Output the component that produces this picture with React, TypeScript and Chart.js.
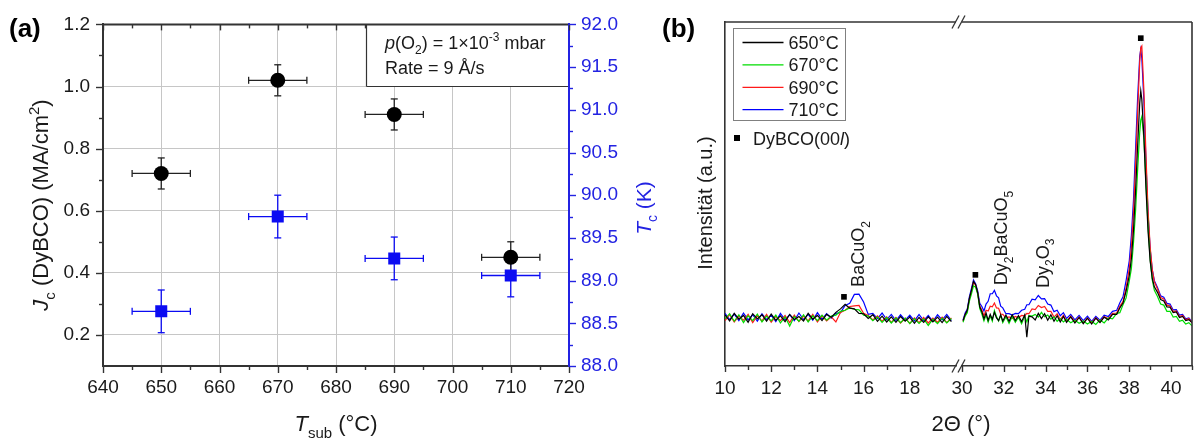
import React, { useEffect, useRef } from 'react';
import { Chart, registerables } from 'chart.js';

Chart.register(...registerables);

const FONT = '"Liberation Sans", Arial, Helvetica, sans-serif';

// ---------------- Panel (a) data ----------------
const T_SUB = [650, 670, 690, 710];
const T_SUB_ERR = [5, 5, 5, 5];
const JC = [0.72, 1.02, 0.91, 0.45];
const JC_ERR = [0.05, 0.05, 0.05, 0.05];
const TC = [88.64, 89.75, 89.26, 89.06];
const TC_ERR = [0.25, 0.25, 0.25, 0.25];
const A_X_TICKS = [640, 650, 660, 670, 680, 690, 700, 710, 720];
const A_JC_TICKS = [0.2, 0.4, 0.6, 0.8, 1.0, 1.2];
const A_TC_TICKS = [88, 88.5, 89, 89.5, 90, 90.5, 91, 91.5, 92];

// ---------------- Panel (b) data ----------------
const B_LABELS = ['650°C', '670°C', '690°C', '710°C'];
const B_X1_TICKS = [10, 12, 14, 16, 18];
const B_X1_MINOR = [11, 13, 15, 17, 19];
const B_X2_TICKS = [30, 32, 34, 36, 38, 40];
const B_X2_MINOR = [31, 33, 35, 37, 39, 41];

const TH1 = [
  10.0, 10.2, 10.4, 10.6, 10.8, 11.0, 11.2, 11.4, 11.6, 11.8,
  12.0, 12.2, 12.4, 12.6, 12.8, 13.0, 13.2, 13.4, 13.6, 13.8,
  14.0, 14.2, 14.4, 14.6, 14.8, 15.0, 15.2, 15.4, 15.6, 15.8,
  16.0, 16.2, 16.4, 16.6, 16.8, 17.0, 17.2, 17.4, 17.6, 17.8,
  18.0, 18.2, 18.4, 18.6, 18.8, 19.0, 19.2, 19.4, 19.6, 19.8,
];
const I1_650 = [
  14.9, 13.1, 15.3, 13.6, 14.7, 12.7, 15.2, 13.7, 14.9, 13.0,
  15.1, 13.3, 14.6, 12.9, 15.0, 13.5, 14.4, 13.1, 15.3, 13.6,
  14.7, 13.2, 15.0, 14.2, 15.6, 16.6, 17.9, 16.8, 16.6, 15.3,
  15.2, 13.8, 14.9, 13.0, 14.5, 12.8, 14.3, 12.7, 14.4, 13.0,
  14.2, 12.4, 14.1, 12.7, 14.3, 12.8, 14.2, 12.6, 14.4, 12.9,
];
const I1_670 = [
  13.7, 15.2, 13.0, 14.9, 12.6, 14.6, 13.2, 15.1, 12.8, 14.5,
  13.1, 14.8, 12.5, 14.3, 11.6, 14.4, 13.0, 14.9, 12.8, 14.6,
  13.2, 14.8, 13.3, 14.5, 14.8, 15.9, 16.2, 16.9, 16.5, 16.3,
  14.8, 14.5, 13.2, 14.3, 12.7, 14.1, 12.5, 14.0, 12.6, 13.9,
  12.3, 13.8, 12.4, 13.7, 11.8, 13.6, 12.3, 13.9, 12.5, 13.8,
];
const I1_690 = [
  13.2, 14.9, 12.8, 14.5, 13.3, 15.0, 12.6, 14.6, 13.1, 15.0,
  12.7, 14.4, 13.2, 14.7, 12.6, 14.8, 12.9, 14.5, 13.1, 15.0,
  12.8, 14.6, 13.1, 14.3, 12.8, 15.6, 16.2, 17.3, 17.5, 17.6,
  15.3, 14.7, 13.4, 14.6, 13.0, 14.3, 12.7, 14.1, 12.5, 13.9,
  12.4, 14.0, 12.6, 14.1, 12.5, 13.9, 12.7, 14.2, 12.6, 14.0,
];
const I1_710 = [
  15.3, 13.5, 15.1, 13.2, 15.4, 13.4, 14.9, 13.0, 15.2, 13.5,
  14.8, 12.9, 15.3, 13.4, 14.9, 13.2, 15.4, 13.5, 15.0, 13.3,
  15.5, 13.6, 15.2, 13.9, 15.3, 15.5, 17.6, 18.2, 20.8, 20.9,
  18.6, 15.0, 15.3, 13.8, 15.4, 13.5, 15.0, 13.2, 14.9, 13.3,
  14.8, 13.1, 15.0, 13.2, 14.7, 13.0, 14.9, 13.4, 15.0, 13.2,
];

const TH2 = [
  30.05, 30.15, 30.25, 30.35, 30.45, 30.55, 30.65, 30.75, 30.85, 30.95,
  31.05, 31.15, 31.25, 31.35, 31.45, 31.55, 31.65, 31.75, 31.85, 31.95,
  32.1, 32.25, 32.4, 32.55, 32.7, 32.85, 33.0, 33.1, 33.2, 33.35,
  33.5, 33.65, 33.8, 33.95, 34.1, 34.25, 34.4, 34.55, 34.7, 34.85,
  35.0, 35.2, 35.4, 35.6, 35.8, 36.0, 36.2, 36.4, 36.6, 36.8,
  37.0, 37.2, 37.4, 37.55, 37.7, 37.85, 38.0, 38.1, 38.2, 38.3,
  38.4, 38.5, 38.55, 38.6, 38.7, 38.8, 38.9, 39.0, 39.1, 39.2,
  39.35, 39.5, 39.65, 39.8, 39.95, 40.1, 40.25, 40.4, 40.55, 40.7, 40.85, 41.0,
];
const I2_650 = [
  13.2, 15.0, 16.2, 19.6, 22.0, 24.6, 23.7, 21.3, 17.2, 15.8,
  13.7, 15.4, 13.3, 15.0, 13.6, 15.6, 14.0, 13.2, 14.9, 13.1,
  14.8, 13.0, 14.9, 13.2, 14.6, 12.9, 14.9, 8.4, 14.5, 14.3,
  13.4, 15.3, 13.8, 15.2, 13.3, 14.9, 13.0, 14.6, 12.8, 14.4,
  12.7, 14.3, 12.5, 14.1, 12.3, 13.9, 12.2, 13.9, 12.6, 14.2,
  13.4, 15.0, 15.0, 16.9, 18.3, 21.8, 26.3, 31.2, 39.3, 50.7,
  64.0, 76.5, 80.0, 77.5, 66.5, 51.5, 39.0, 30.5, 25.5, 23.0,
  21.4, 19.3, 18.9, 17.2, 17.1, 15.5, 15.7, 14.1, 14.4, 13.2, 13.5, 12.6,
];
const I2_670 = [
  12.7, 14.5, 15.5, 18.8, 20.9, 23.3, 22.9, 20.9, 16.7, 15.1,
  13.1, 14.8, 12.8, 14.5, 13.0, 16.1, 14.4, 13.1, 14.7, 12.6,
  14.3, 12.4, 14.4, 12.7, 14.2, 12.3, 14.5, 12.8, 14.7, 14.5,
  15.0, 14.2, 15.6, 14.3, 14.8, 13.6, 14.3, 13.0, 13.8, 12.8,
  13.6, 12.6, 13.3, 12.4, 13.1, 12.2, 13.0, 12.1, 13.4, 12.5,
  14.0, 13.7, 15.3, 15.5, 17.8, 19.8, 24.7, 28.3, 35.7, 45.0,
  57.0, 68.0, 71.5, 72.5, 66.0, 53.0, 40.5, 31.0, 25.0, 22.0,
  20.2, 18.0, 17.7, 15.9, 15.9, 14.2, 14.4, 13.0, 13.3, 12.2, 12.6, 11.7,
];
const I2_690 = [
  13.0, 14.9, 15.9, 19.3, 21.6, 24.4, 23.5, 21.2, 17.4, 16.3,
  14.6, 16.2, 16.0, 17.4, 17.2, 18.3, 16.9, 16.8, 15.1, 15.0,
  14.0, 14.3, 13.8, 14.4, 14.0, 14.7, 14.6, 15.3, 15.2, 16.6,
  16.4, 17.6, 17.0, 17.3, 15.9, 15.9, 14.2, 15.2, 13.5, 14.7,
  13.0, 14.5, 12.8, 14.2, 12.5, 13.9, 12.6, 14.0, 12.8, 14.3,
  13.8, 15.3, 15.4, 17.4, 18.7, 22.8, 28.3, 34.7, 44.4, 58.1,
  73.5, 88.5, 92.5, 93.0, 80.0, 61.0, 45.0, 34.5, 28.0, 24.5,
  22.4, 19.9, 19.5, 17.7, 17.5, 15.8, 16.0, 14.4, 14.7, 13.4, 13.8, 12.6,
];
const I2_710 = [
  13.4, 15.4, 16.5, 20.0, 22.5, 25.0, 23.9, 21.8, 18.2, 17.3,
  16.0, 18.0, 18.8, 21.0, 21.0, 22.0, 20.4, 19.8, 17.4, 16.9,
  15.2, 15.2, 14.8, 15.3, 15.2, 16.2, 16.5, 17.8, 17.8, 19.4,
  19.2, 20.5, 19.5, 19.6, 18.0, 17.7, 15.8, 16.2, 14.6, 15.5,
  13.8, 15.0, 13.4, 14.7, 13.2, 14.5, 13.0, 14.4, 13.3, 14.8,
  14.4, 15.9, 16.2, 18.4, 20.1, 24.9, 30.6, 37.9, 48.1, 62.9,
  78.0, 90.0, 92.0, 89.5, 77.0, 59.0, 44.0, 34.0, 28.0, 24.8,
  22.8, 20.4, 20.0, 18.2, 18.0, 16.3, 16.4, 14.8, 15.0, 13.7, 14.0, 12.8,
];

// DyBCO(00l) reflections (2θ, intensity) and secondary phases
const REFL_X = [15.15, 30.64, 38.55];
const REFL_Y = [20.1, 26.5, 95.3];
const PHASE_X = [15.75, 31.85, 33.85];
const PHASE_Y = [23.0, 23.5, 22.7];

// ---------------- styles ----------------
const AXIS = '#333333';
const GRID = '#c6c6c6';
const TEXT = '#1a1a1a';
const BLUE_AX = '#2323e2';
const BLUE_MK = '#0b0bf2';
const SERIES_COLORS = ['#000000', '#00dd00', '#ff1a1a', '#0000ff'];

type Part = [string, string?];

function fontOf(style: string | undefined, size: number) {
  const tk = (style || '').split(' ');
  const small = tk.includes('sub') || tk.includes('sup');
  const s = small ? Math.round(size * 0.68) : size;
  const it = tk.includes('i') ? 'italic ' : '';
  const b = tk.includes('bold') ? 'bold ' : '';
  return `${it}${b}${s}px ${FONT}`;
}

function drawRich(ctx: CanvasRenderingContext2D, parts: Part[], x: number, y: number, size: number, color: string, align: 'left' | 'center' = 'left', rotate = false) {
  ctx.save();
  ctx.translate(x, y);
  if (rotate) ctx.rotate(-Math.PI / 2);
  ctx.fillStyle = color;
  ctx.textBaseline = 'alphabetic';
  ctx.textAlign = 'left';
  const widths = parts.map(([t, st]) => { ctx.font = fontOf(st, size); return ctx.measureText(t).width; });
  const total = widths.reduce((a, b) => a + b, 0);
  let cx = align === 'center' ? -total / 2 : 0;
  parts.forEach(([t, st], i) => {
    const tk = (st || '').split(' ');
    ctx.font = fontOf(st, size);
    let dy = 0;
    if (tk.includes('sub')) dy = size * 0.3;
    if (tk.includes('sup')) dy = -size * 0.42;
    ctx.fillText(t, cx, dy);
    cx += widths[i];
  });
  ctx.restore();
}

function seg(ctx: CanvasRenderingContext2D, x1: number, y1: number, x2: number, y2: number) {
  ctx.beginPath(); ctx.moveTo(x1, y1); ctx.lineTo(x2, y2); ctx.stroke();
}
const mids = (a: number[]) => a.slice(1).map((v, i) => (v + a[i]) / 2);

function xTicks(ctx: CanvasRenderingContext2D, sc: any, vals: number[], y: number, len: number) {
  vals.forEach((v) => { const p = Math.round(sc.getPixelForValue(v)) + 0.5; seg(ctx, p, y, p, y + len); });
}
function yTicks(ctx: CanvasRenderingContext2D, sc: any, vals: number[], x: number, len: number) {
  vals.forEach((v) => { const p = Math.round(sc.getPixelForValue(v)) + 0.5; seg(ctx, x, p, x + len, p); });
}

const pts = (xs: number[], ys: number[]) => xs.map((x, i) => ({ x, y: ys[i] }));
const setTicks = (vals: number[]) => (s: any) => { s.ticks = vals.map((value) => ({ value })); };

// ---------------- plugins ----------------
const panelAPlugin = {
  id: 'panelA',
  beforeDatasetsDraw(chart: any) {
    const ctx = chart.ctx as CanvasRenderingContext2D;
    const xs = chart.scales.x;
    ctx.save();
    ctx.lineWidth = 1.3;
    const bars = (ysc: any, vals: number[], errs: number[], color: string) => {
      ctx.strokeStyle = color;
      T_SUB.forEach((t, i) => {
        const px = xs.getPixelForValue(t), py = ysc.getPixelForValue(vals[i]);
        const xl = xs.getPixelForValue(t - T_SUB_ERR[i]), xr = xs.getPixelForValue(t + T_SUB_ERR[i]);
        const yt = ysc.getPixelForValue(vals[i] + errs[i]), yb = ysc.getPixelForValue(vals[i] - errs[i]);
        seg(ctx, xl, py, xr, py); seg(ctx, px, yt, px, yb);
        seg(ctx, xl, py - 3.5, xl, py + 3.5); seg(ctx, xr, py - 3.5, xr, py + 3.5);
        seg(ctx, px - 3.5, yt, px + 3.5, yt); seg(ctx, px - 3.5, yb, px + 3.5, yb);
      });
    };
    bars(chart.scales.y2, TC, TC_ERR, BLUE_MK);
    bars(chart.scales.y, JC, JC_ERR, '#222');
    ctx.restore();
  },
  afterDraw(chart: any) {
    const ctx = chart.ctx as CanvasRenderingContext2D;
    const ca = chart.chartArea;
    const xs = chart.scales.x, ys = chart.scales.y, y2 = chart.scales.y2;
    ctx.save();
    ctx.lineWidth = 1.4;
    ctx.strokeStyle = AXIS;
    xTicks(ctx, xs, A_X_TICKS, ca.bottom, 7);
    xTicks(ctx, xs, mids(A_X_TICKS), ca.bottom, 4);
    xTicks(ctx, xs, A_X_TICKS, ca.top, 6);
    xTicks(ctx, xs, mids(A_X_TICKS), ca.top, 4);
    yTicks(ctx, ys, A_JC_TICKS, ca.left, -7);
    yTicks(ctx, ys, [0.3, 0.5, 0.7, 0.9, 1.1], ca.left, -4);
    ctx.strokeStyle = BLUE_AX;
    yTicks(ctx, y2, A_TC_TICKS, ca.right, 7);
    yTicks(ctx, y2, mids(A_TC_TICKS), ca.right, 4);
    // note box
    const bl = 366.5, bb = 86.5;
    ctx.fillStyle = '#ffffff';
    ctx.fillRect(bl, ca.top, ca.right - 1 - bl, bb - ca.top);
    ctx.strokeStyle = AXIS;
    ctx.lineWidth = 1.2;
    seg(ctx, bl, ca.top, bl, bb); seg(ctx, bl, bb, ca.right - 1, bb);
    ctx.lineWidth = 2;
    seg(ctx, ca.left, ca.top, ca.right - 1, ca.top);
    drawRich(ctx, [['p', 'i'], ['(O'], ['2', 'sub'], [') = 1×10'], ['-3', 'sup'], [' mbar']], 385, 49, 18, TEXT);
    drawRich(ctx, [['Rate = 9 Å/s']], 385, 74, 18, TEXT);
    // titles
    drawRich(ctx, [['(a)', 'bold']], 9, 36.5, 26, '#000');
    drawRich(ctx, [['J', 'i'], ['c', 'sub'], [' (DyBCO) (MA/cm'], ['2', 'sup'], [')']], 48, 205, 22, TEXT, 'center', true);
    drawRich(ctx, [['T', 'i'], ['sub', 'sub'], [' (°C)']], 336, 431, 22, TEXT, 'center');
    drawRich(ctx, [['T', 'i'], ['c', 'sub'], [' (K)']], 651, 208, 21, BLUE_AX, 'center', true);
    ctx.restore();
  },
};

function rotatedPhase(ctx: CanvasRenderingContext2D, chart: any, i: number, parts: Part[]) {
  const px = chart.scales.x.getPixelForValue(PHASE_X[i]);
  const py = chart.scales.y.getPixelForValue(PHASE_Y[i]);
  drawRich(ctx, parts, px + 6.5, py, 18, TEXT, 'left', true);
}

function breakMarks(ctx: CanvasRenderingContext2D, x: number, y: number) {
  seg(ctx, x - 10, y + 6.5, x - 3, y - 6.5);
  seg(ctx, x - 4, y + 6.5, x + 3, y - 6.5);
}

const panelB1Plugin = {
  id: 'panelB1',
  afterDraw(chart: any) {
    const ctx = chart.ctx as CanvasRenderingContext2D;
    const ca = chart.chartArea;
    const xs = chart.scales.x;
    ctx.save();
    ctx.strokeStyle = AXIS;
    ctx.lineWidth = 1.6;
    seg(ctx, ca.left, ca.top, ca.right, ca.top);
    ctx.lineWidth = 1.4;
    xTicks(ctx, xs, B_X1_TICKS, ca.bottom, 6);
    xTicks(ctx, xs, B_X1_MINOR, ca.bottom, 4);
    // legend
    const lx = ca.left + 8.5, ly = ca.top + 6.5;
    ctx.fillStyle = '#fff';
    ctx.fillRect(lx, ly, 112, 92);
    ctx.strokeStyle = '#808080';
    ctx.lineWidth = 1;
    ctx.strokeRect(lx, ly, 112, 92);
    B_LABELS.forEach((lab, i) => {
      const ry = ly + 14 + i * 22.4;
      ctx.strokeStyle = SERIES_COLORS[i];
      ctx.lineWidth = 1.3;
      seg(ctx, lx + 9, ry, lx + 50, ry);
      drawRich(ctx, [[lab]], lx + 55, ry + 6.5, 18, TEXT);
    });
    ctx.fillStyle = '#000';
    ctx.fillRect(ca.left + 9, ca.top + 113, 6, 6);
    drawRich(ctx, [['DyBCO(00'], ['l', 'i'], [')']], ca.left + 28, ca.top + 122.5, 18, TEXT);
    rotatedPhase(ctx, chart, 0, [['BaCuO'], ['2', 'sub']]);
    drawRich(ctx, [['(b)', 'bold']], 12, 36.5, 26, '#000');
    drawRich(ctx, [['Intensität (a.u.)']], 62, 203, 20, TEXT, 'center', true);
    drawRich(ctx, [['2Θ (°)']], 311, 431, 22, TEXT, 'center');
    ctx.restore();
  },
};

const panelB2Plugin = {
  id: 'panelB2',
  afterDraw(chart: any) {
    const ctx = chart.ctx as CanvasRenderingContext2D;
    const ca = chart.chartArea;
    const xs = chart.scales.x;
    ctx.save();
    ctx.strokeStyle = AXIS;
    ctx.lineWidth = 1.6;
    seg(ctx, ca.left, ca.top, ca.right, ca.top);
    seg(ctx, ca.right, ca.top, ca.right, ca.bottom);
    ctx.lineWidth = 1.4;
    xTicks(ctx, xs, B_X2_TICKS, ca.bottom, 6);
    xTicks(ctx, xs, B_X2_MINOR, ca.bottom, 4);
    ctx.lineWidth = 1.3;
    breakMarks(ctx, ca.left, ca.bottom);
    breakMarks(ctx, ca.left, ca.top);
    rotatedPhase(ctx, chart, 1, [['Dy'], ['2', 'sub'], ['BaCuO'], ['5', 'sub']]);
    rotatedPhase(ctx, chart, 2, [['Dy'], ['2', 'sub'], ['O'], ['3', 'sub']]);
    ctx.restore();
  },
};

// ---------------- configs ----------------
const tickFont = { family: FONT, size: 19 };

function configA(): any {
  return {
    type: 'scatter',
    data: {
      datasets: [
        { label: 'Jc', data: pts(T_SUB, JC), yAxisID: 'y', pointStyle: 'circle', pointRadius: 7.5, backgroundColor: '#000', borderColor: '#000', borderWidth: 0 },
        { label: 'Tc', data: pts(T_SUB, TC), yAxisID: 'y2', pointStyle: 'rect', pointRadius: 8.5, backgroundColor: BLUE_MK, borderColor: BLUE_MK, borderWidth: 0 },
      ],
    },
    options: {
      animation: false, responsive: false, events: [],
      layout: { padding: { top: 22, left: 0, right: 0, bottom: 0 } },
      plugins: { legend: { display: false }, tooltip: { enabled: false } },
      scales: {
        x: {
          type: 'linear', min: 640, max: 720, afterBuildTicks: setTicks(A_X_TICKS),
          afterFit: (s: any) => { s.height = 75; },
          grid: { drawTicks: false, lineWidth: 1, color: (c: any) => (c.tick && (c.tick.value === 640 || c.tick.value === 720) ? 'rgba(0,0,0,0)' : GRID) },
          border: { color: AXIS, width: 2 },
          ticks: { padding: 10, font: tickFont, color: TEXT, callback: (v: any) => String(v) },
        },
        y: {
          position: 'left', min: 0.1, max: 1.2, afterBuildTicks: setTicks(A_JC_TICKS),
          afterFit: (s: any) => { s.width = 103; },
          grid: { drawTicks: false, lineWidth: 1, color: (c: any) => (c.tick && c.tick.value === 1.2 ? 'rgba(0,0,0,0)' : GRID) },
          border: { color: AXIS, width: 2 },
          ticks: { padding: 13, font: tickFont, color: TEXT, callback: (v: any) => Number(v).toFixed(1) },
        },
        y2: {
          position: 'right', min: 88, max: 92, afterBuildTicks: setTicks(A_TC_TICKS),
          afterFit: (s: any) => { s.width = 121; },
          grid: { display: false, drawTicks: false },
          border: { color: BLUE_AX, width: 2 },
          ticks: { padding: 12, font: tickFont, color: BLUE_AX, callback: (v: any) => Number(v).toFixed(1) },
        },
      },
    },
    plugins: [panelAPlugin],
  };
}

function configB(seg1: boolean): any {
  const xsArr = seg1 ? TH1 : TH2;
  const series = seg1 ? [I1_650, I1_670, I1_690, I1_710] : [I2_650, I2_670, I2_690, I2_710];
  const rx = REFL_X.filter((x) => (seg1 ? x < 25 : x > 25));
  const ry = REFL_Y.filter((_, i) => (seg1 ? REFL_X[i] < 25 : REFL_X[i] > 25));
  const yScale: any = seg1
    ? {
        display: true, min: 0, max: 100,
        afterFit: (s: any) => { s.width = 75; },
        grid: { display: false, drawTicks: false },
        border: { color: AXIS, width: 1.6 },
        ticks: { display: false },
      }
    : { display: false, min: 0, max: 100 };
  return {
    type: 'line',
    data: {
      datasets: [
        { label: 'DyBCO(00l)', data: pts(rx, ry), showLine: false, pointStyle: 'rect', pointRadius: 4, backgroundColor: '#000', borderColor: '#000', borderWidth: 0 },
        ...series.map((s, i) => ({
          label: B_LABELS[i], data: pts(xsArr, s), borderColor: SERIES_COLORS[i], borderWidth: 1.2,
          pointRadius: 0, tension: 0, fill: false,
        })),
      ],
    },
    options: {
      animation: false, responsive: false, events: [],
      layout: { padding: seg1 ? { top: 22, left: 0, right: 44, bottom: 0 } : { top: 22, left: 22, right: 4, bottom: 0 } },
      plugins: { legend: { display: false }, tooltip: { enabled: false } },
      scales: {
        x: {
          type: 'linear', min: seg1 ? 10 : 30, max: seg1 ? 20 : 41,
          afterBuildTicks: setTicks(seg1 ? B_X1_TICKS : B_X2_TICKS),
          afterFit: (s: any) => { s.height = 75; },
          grid: { display: false, drawTicks: false },
          border: { color: AXIS, width: 1.6 },
          ticks: { padding: 11, font: tickFont, color: TEXT, callback: (v: any) => String(v) },
        },
        y: yScale,
      },
    },
    plugins: [seg1 ? panelB1Plugin : panelB2Plugin],
  };
}

export default function App() {
  const aRef = useRef<HTMLCanvasElement>(null);
  const b1Ref = useRef<HTMLCanvasElement>(null);
  const b2Ref = useRef<HTMLCanvasElement>(null);
  useEffect(() => {
    const charts = [
      new Chart(aRef.current as HTMLCanvasElement, configA()),
      new Chart(b1Ref.current as HTMLCanvasElement, configB(true)),
      new Chart(b2Ref.current as HTMLCanvasElement, configB(false)),
    ];
    return () => charts.forEach((c) => c.destroy());
  }, []);
  return (
    <div style={{ position: 'absolute', left: 0, top: 0, width: 1196, height: 441, background: '#fff', overflow: 'hidden' }}>
      <canvas ref={aRef} width={690} height={441} style={{ position: 'absolute', left: 0, top: 0 }} />
      <canvas ref={b1Ref} width={350} height={441} style={{ position: 'absolute', left: 650, top: 0 }} />
      <canvas ref={b2Ref} width={256} height={441} style={{ position: 'absolute', left: 940, top: 0 }} />
    </div>
  );
}
